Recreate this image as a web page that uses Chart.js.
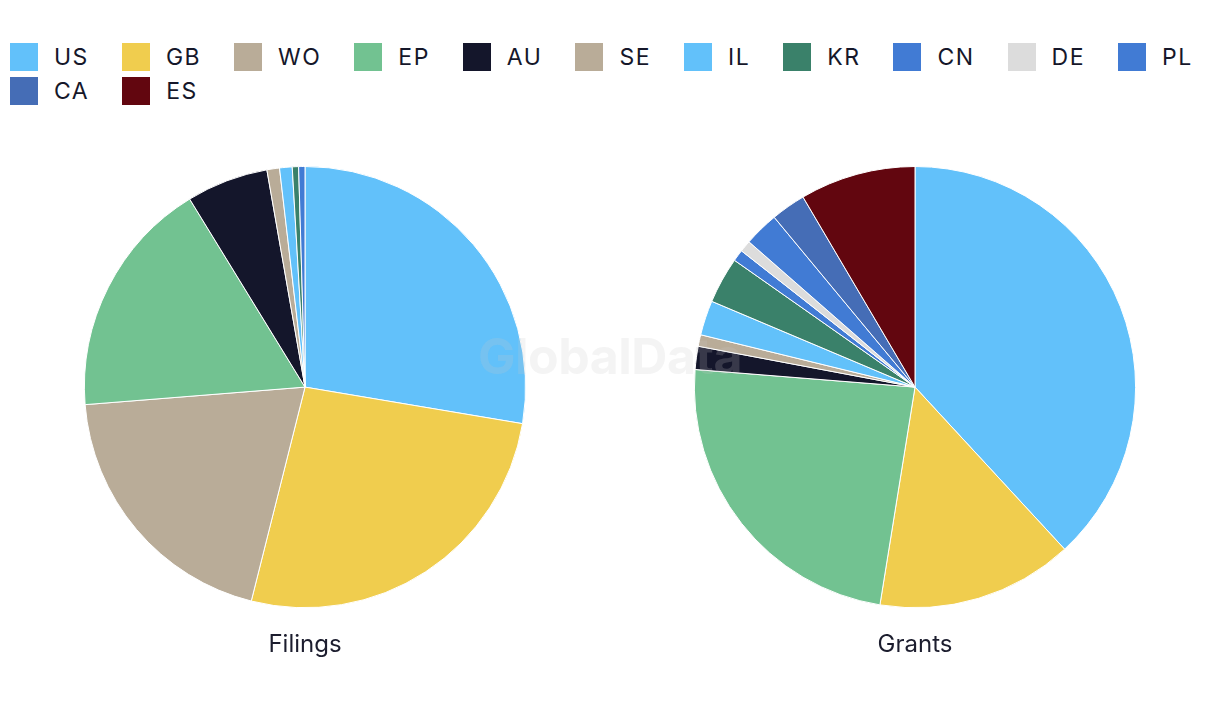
<!DOCTYPE html>
<html>
<head>
<meta charset="utf-8">
<script src="https://cdn.jsdelivr.net/npm/chart.js@4"></script>
<style>
  html, body { margin: 0; padding: 0; background: #ffffff; }
  body { width: 1220px; height: 720px; position: relative; overflow: hidden; font-family: Inter, "Liberation Sans", sans-serif; }
  #legend { position: absolute; left: 10px; top: 43px; width: 1210px; display: flex; flex-wrap: wrap; row-gap: 6px; column-gap: 33px; }
  .item { display: flex; align-items: center; height: 28px; }
  .box { width: 28px; height: 28px; margin-right: 16px; flex: none; }
  .lbl { font-size: 23px; color: #15172a; line-height: 28px; letter-spacing: 1.5px; }
  canvas { position: absolute; }
  #cL { left: 0; top: 166px; }
  #cR { left: 610px; top: 166px; }
  #wm { position: absolute; left: 0; width: 1220px; top: 326px; text-align: center; font-size: 50px; font-weight: 700; color: rgba(200,200,200,0.2); pointer-events: none; z-index: 5; letter-spacing: -0.5px; }
</style>
</head>
<body>
<div id="legend"></div>
<canvas id="cL" width="610" height="493"></canvas>
<canvas id="cR" width="610" height="493"></canvas>
<div id="wm">GlobalData</div>
<script>
const categories = ['US', 'GB', 'WO', 'EP', 'AU', 'SE', 'IL', 'KR', 'CN', 'DE', 'PL', 'CA', 'ES'];
const colors = ['#62c1fa', '#f0cd4e', '#b9ac98', '#72c291', '#14162b', '#b9ac98', '#62c1fa', '#3a816a', '#417bd4', '#dcdcdc', '#417bd4', '#456db6', '#62060f'];
const filings = [60, 57, 43, 38, 13, 2, 2, 1, 1, 0, 0, 0, 0];
const grants  = [45, 17, 0, 28, 2, 1, 3, 4, 1, 1, 3, 3, 10];
const chartTitles = ['Filings', 'Grants'];

// legend
const leg = document.getElementById('legend');
categories.forEach((c, i) => {
  const it = document.createElement('div'); it.className = 'item';
  const b = document.createElement('span'); b.className = 'box'; b.style.background = colors[i];
  const t = document.createElement('span'); t.className = 'lbl'; t.textContent = c;
  it.appendChild(b); it.appendChild(t); leg.appendChild(it);
});

function makePie(id, values, title) {
  return new Chart(document.getElementById(id), {
    type: 'pie',
    data: {
      labels: categories,
      datasets: [{ data: values, backgroundColor: colors, borderColor: '#ffffff', borderWidth: 1 }]
    },
    options: {
      responsive: false,
      animation: false,
      layout: { padding: 0 },
      plugins: {
        legend: { display: false },
        tooltip: { enabled: false },
        title: {
          display: true, text: title, position: 'bottom', color: '#1c1d2e',
          font: { family: 'Inter', size: 24, weight: 'normal' },
          padding: { top: 22, bottom: 0 }
        }
      }
    }
  });
}
makePie('cL', filings, chartTitles[0]);
makePie('cR', grants, chartTitles[1]);
</script>
</body>
</html>
